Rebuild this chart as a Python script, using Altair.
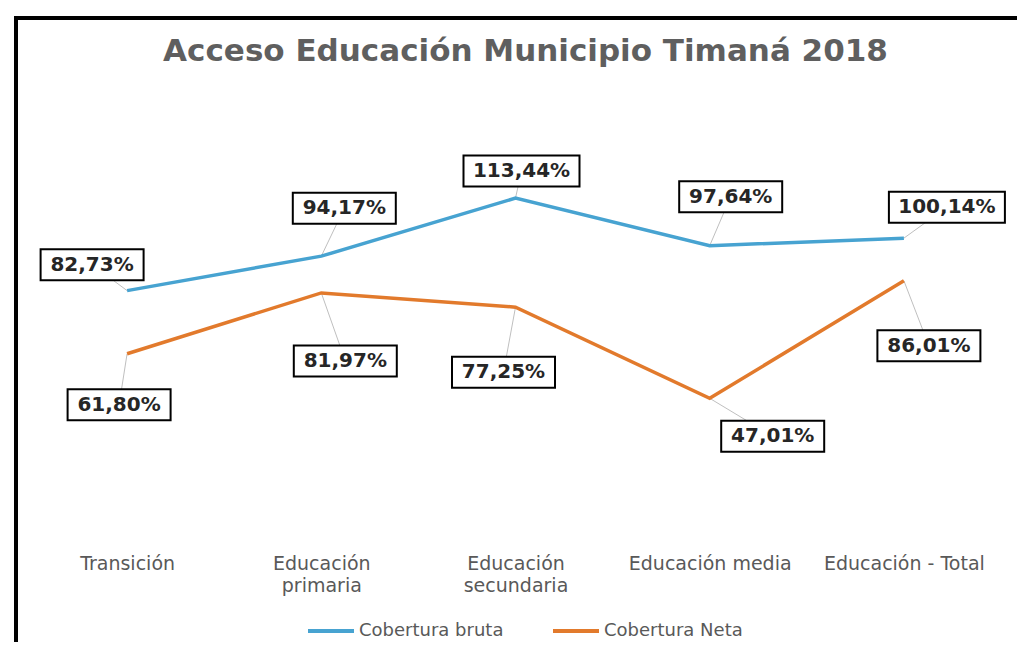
import json
import altair as alt
import pandas as pd

categories = ["Transición", "Educación\nprimaria", "Educación\nsecundaria",
              "Educación media", "Educación - Total"]
series_names = ["Cobertura bruta", "Cobertura Neta"]
cobertura_bruta = [82.73, 94.17, 113.44, 97.64, 100.14]
cobertura_neta = [61.80, 81.97, 77.25, 47.01, 86.01]

# layout only: offset (pixels) of each data-label box from its point
bruta_label_dx = [-35, 23, 6, 21, 43]
bruta_label_dy = [-26, -48, -27, -49, -31]
neta_label_dx = [-8, 24, -12, 63, 25]
neta_label_dy = [51, 68, 65, 38, 65]

W, H = 971, 422
Y_MAX = 140
X_DOMAIN = [-0.5, len(categories) - 0.5]
px_x = W / (X_DOMAIN[1] - X_DOMAIN[0])
px_y = H / Y_MAX

BLUE = "#47A3D1"
ORANGE = "#E27A2C"
GRAY = "#595959"

rows = []
for name, vals, dxs, dys in [(series_names[0], cobertura_bruta, bruta_label_dx, bruta_label_dy),
                             (series_names[1], cobertura_neta, neta_label_dx, neta_label_dy)]:
    for i, v in enumerate(vals):
        rows.append(dict(idx=i, value=v, serie=name,
                         label=f"{v:.2f}".replace(".", ",") + "%",
                         lx=i + dxs[i] / px_x, ly=v - dys[i] / px_y))
df = pd.DataFrame(rows)

label_expr = "split(" + json.dumps(categories, ensure_ascii=False) + "[datum.value], '\\n')"

x_axis = alt.Axis(values=list(range(len(categories))), labelExpr=label_expr, title=None,
                  domain=False, ticks=False, grid=False, labelFont="DejaVu Sans",
                  labelFontSize=19, labelColor=GRAY, labelPadding=14, labelLineHeight=22,
                  labelAlign="center", labelBaseline="top", labelFlush=False, labelOverlap=False)
x_scale = alt.Scale(domain=X_DOMAIN, nice=False, zero=False)
y_scale = alt.Scale(domain=[0, Y_MAX], nice=False, zero=True)

base = alt.Chart(df)

frame_data = alt.Chart(pd.DataFrame({"f": [0]}))
frame_top = frame_data.mark_rule(color="black", strokeWidth=4).encode(
    x=alt.value(-16), x2=alt.value(987), y=alt.value(-100))
frame_left = frame_data.mark_rule(color="black", strokeWidth=4).encode(
    x=alt.value(-14), y=alt.value(-102), y2=alt.value(524))

leaders = base.mark_rule(color="#BFBFBF", strokeWidth=1).encode(
    x=alt.X("idx:Q", scale=x_scale, axis=x_axis),
    y=alt.Y("value:Q", scale=y_scale, axis=None),
    x2="lx:Q", y2="ly:Q")

lines = base.mark_line(strokeWidth=3.5).encode(
    x=alt.X("idx:Q", scale=x_scale, axis=x_axis),
    y=alt.Y("value:Q", scale=y_scale, axis=None),
    color=alt.Color("serie:N", scale=alt.Scale(domain=series_names, range=[BLUE, ORANGE]),
                    legend=alt.Legend(orient="none", legendX=276, legendY=488,
                                      direction="horizontal", title=None,
                                      symbolType="stroke", symbolSize=2116,
                                      symbolStrokeWidth=4, labelFont="DejaVu Sans",
                                      labelFontSize=18, labelColor=GRAY, labelOffset=3,
                                      columnPadding=41, padding=0)))

SHORT = "M-51.5,-15.5L51.5,-15.5L51.5,15.5L-51.5,15.5Z"
LONG = "M-58,-15.5L58,-15.5L58,15.5L-58,15.5Z"
boxes = base.mark_point(filled=True, fill="white", stroke="black", strokeWidth=2,
                        opacity=1, size=4).encode(
    x=alt.X("lx:Q", scale=x_scale, axis=x_axis),
    y=alt.Y("ly:Q", scale=y_scale, axis=None),
    shape=alt.condition("length(datum.label) > 6", alt.value(LONG), alt.value(SHORT)))

texts = base.mark_text(font="DejaVu Sans", fontSize=20, fontWeight="bold", color="#262626",
                       baseline="middle", align="center").encode(
    x=alt.X("lx:Q", scale=x_scale, axis=x_axis),
    y=alt.Y("ly:Q", scale=y_scale, axis=None),
    text="label:N")

chart = alt.layer(frame_top, frame_left, leaders, lines, boxes, texts).properties(
    width=W, height=H,
    title=alt.TitleParams(text="Acceso Educación Municipio Timaná 2018", font="DejaVu Sans",
                          fontSize=31, fontWeight="bold", color="#5f5f5f", anchor="middle",
                          offset=-54, dx=10),
    padding={"left": 4, "top": 6, "right": 0, "bottom": 0},
).configure(background="white").configure_view(stroke=None)

chart.save("out.html", embed_options={"renderer": "svg", "actions": False})
